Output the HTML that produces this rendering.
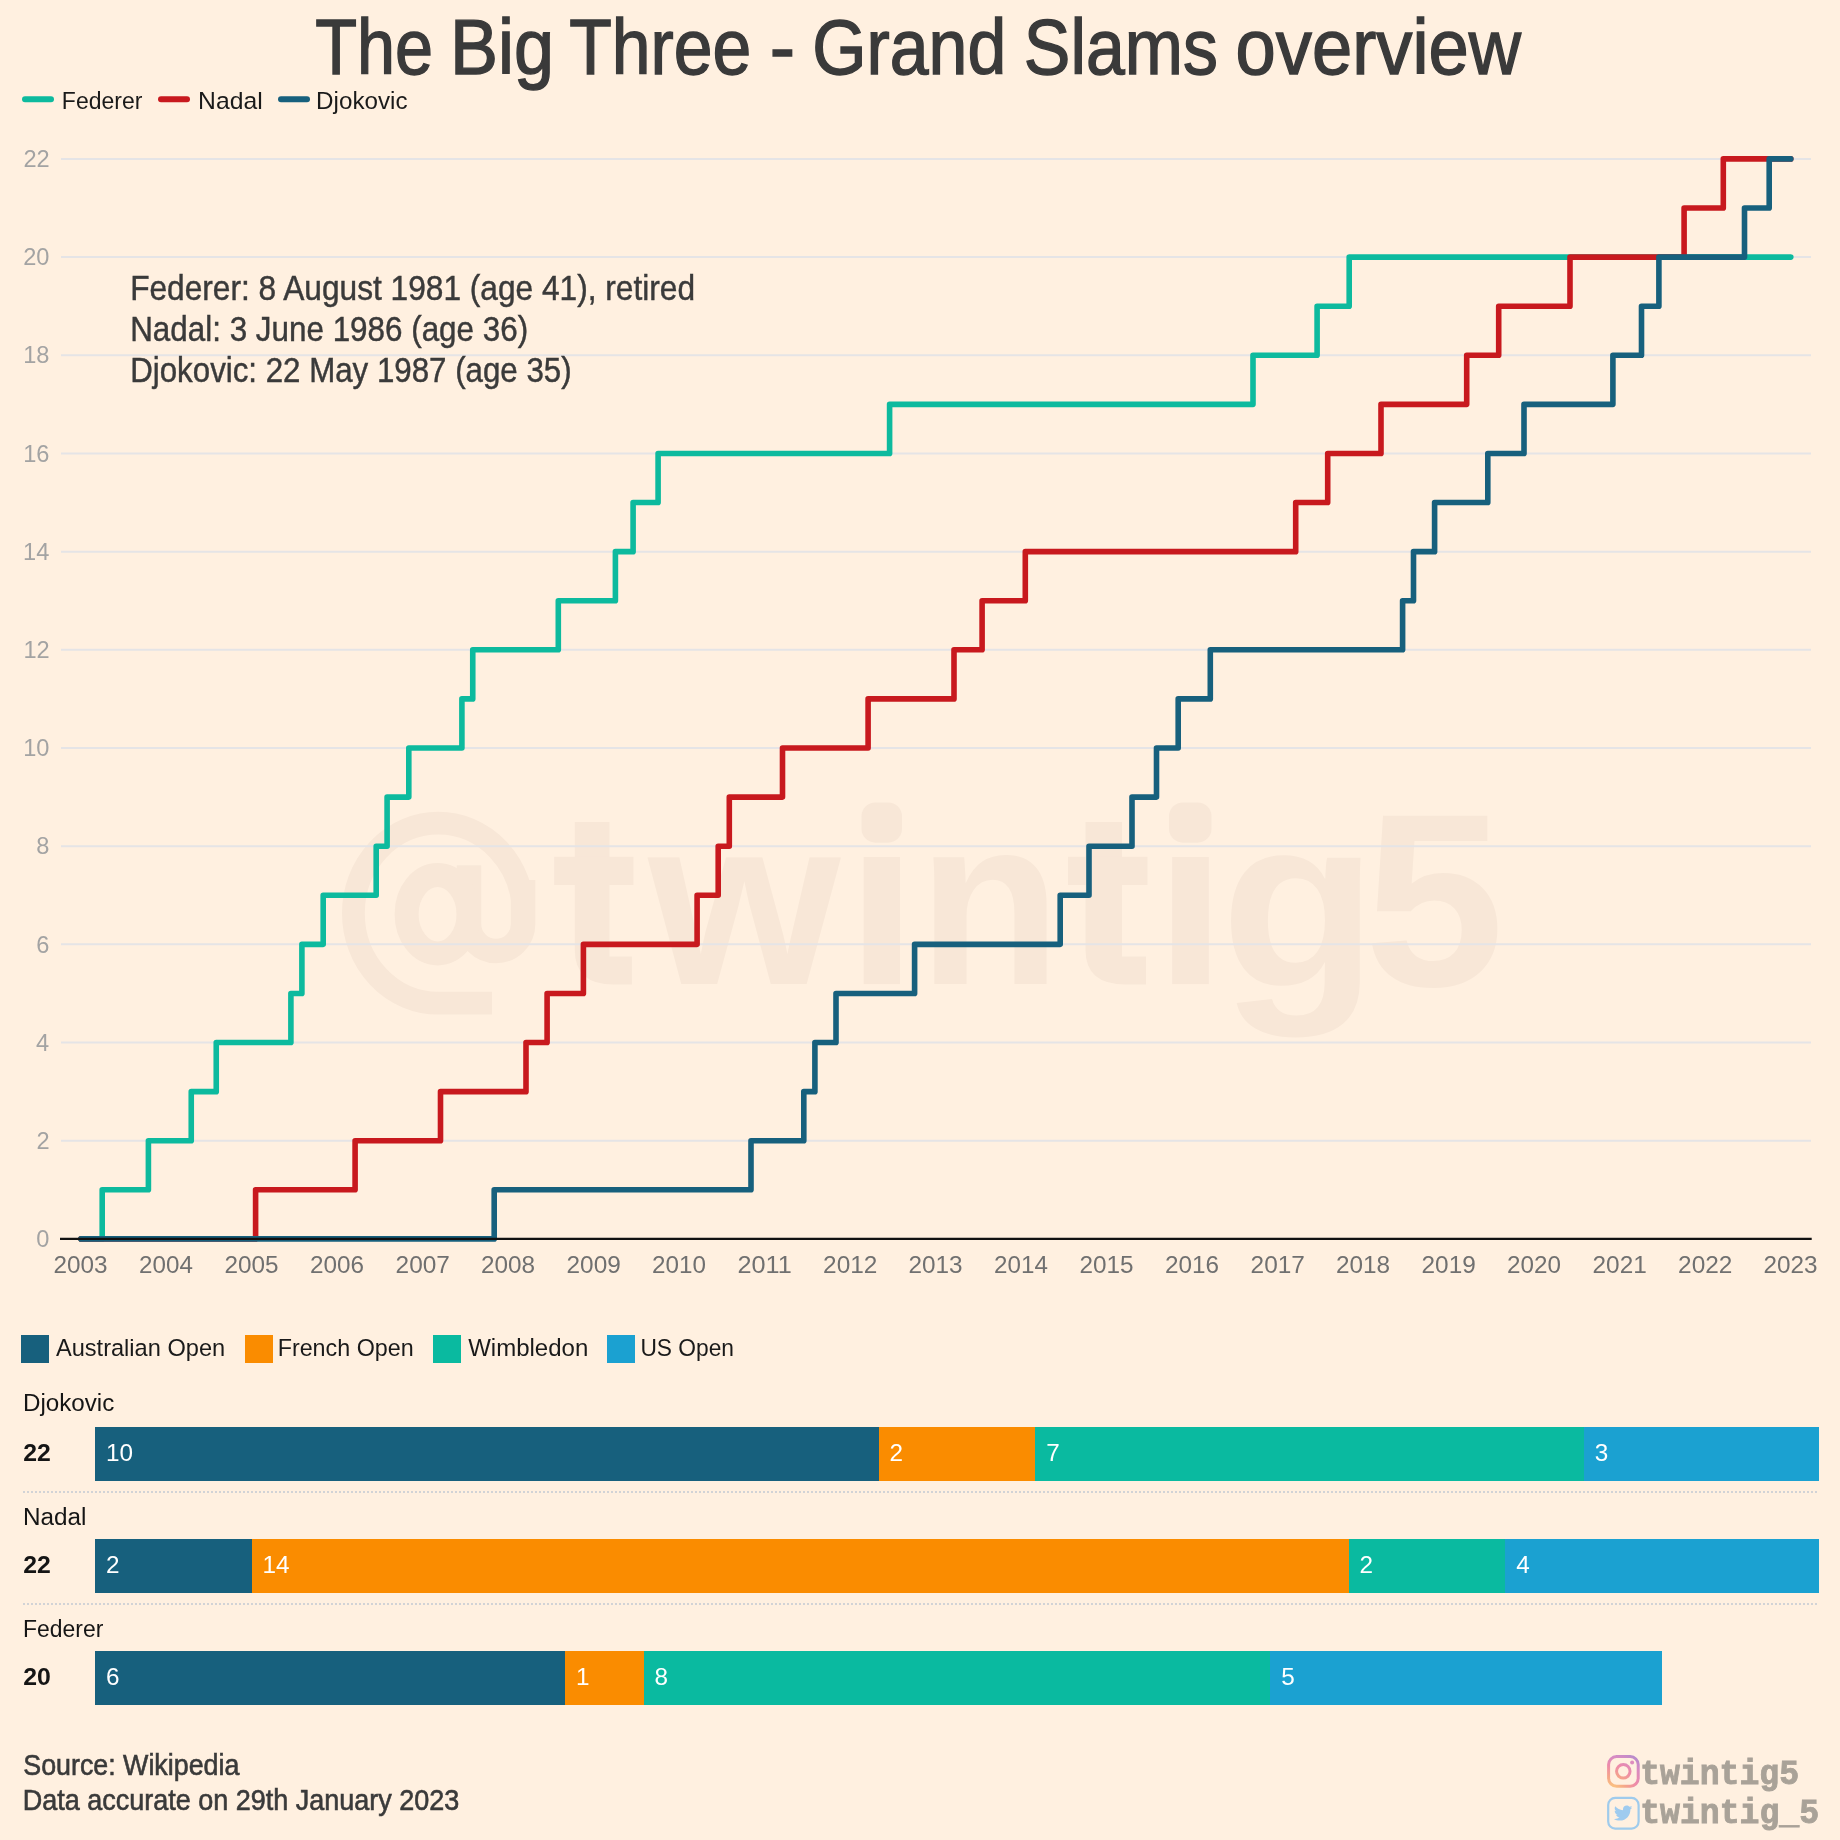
<!DOCTYPE html>
<html><head><meta charset="utf-8"><title>The Big Three - Grand Slams overview</title>
<style>html,body{margin:0;padding:0;background:#FFF0E0;} svg{display:block;will-change:transform;}</style></head>
<body><svg width="1840" height="1840" viewBox="0 0 1840 1840">
<rect width="1840" height="1840" fill="#FFF0E0"/>
<rect x="863.7" y="857" width="36.3" height="127.1" fill="#F8E7D7"/>
<rect x="861.5" y="802.4" width="40.5" height="40.3" rx="14" fill="#F8E7D7"/>
<rect x="1172.2" y="857" width="36.6" height="127.1" fill="#F8E7D7"/>
<rect x="1169" y="802.4" width="42.5" height="40.3" rx="14" fill="#F8E7D7"/>
<path d="M523.2 913.2 A84.9 90.0 0 1 0 438.3 1003.2 H492" fill="none" stroke="#F8E7D7" stroke-width="22.8"/>
<path d="M469 865.3 V924 A27 27 0 0 0 523.1 924 V880" fill="none" stroke="#F8E7D7" stroke-width="24.5"/>
<ellipse cx="437.6" cy="914.2" rx="31" ry="39.2" fill="none" stroke="#F8E7D7" stroke-width="24"/>
<path d="M574.8 822 H609.5 V956.5 H631.9 V984.6 H613.5 Q574.8 984.6 574.8 950 Z" fill="#F8E7D7"/>
<rect x="554.2" y="856.8" width="79.2" height="28.2" fill="#F8E7D7"/>
<path d="M1085.5 822 H1122 V956.5 H1146.0 V984.6 H1126 Q1085.5 984.6 1085.5 950 Z" fill="#F8E7D7"/>
<rect x="1068" y="856.8" width="79.5" height="28.2" fill="#F8E7D7"/>
<text transform="translate(648.24 984.10) scale(2.4713 2.3981)" font-family='"Liberation Sans", sans-serif' font-weight="bold" font-size="100.0" fill="#F8E7D7">w</text>
<text transform="translate(918.08 984.10) scale(2.3423 2.3907)" font-family='"Liberation Sans", sans-serif' font-weight="bold" font-size="100.0" fill="#F8E7D7">n</text>
<text transform="translate(1220.50 986.04) scale(2.5743 2.4267)" font-family='"Liberation Sans", sans-serif' font-weight="bold" font-size="100.0" fill="#F8E7D7">g</text>
<text transform="translate(1364.15 985.52) scale(2.5180 2.4757)" font-family='"Liberation Sans", sans-serif' font-weight="bold" font-size="100.0" fill="#F8E7D7">5</text>
<line x1="61" x2="1811" y1="1140.72" y2="1140.72" stroke="#E5E4E6" stroke-width="2"/>
<line x1="61" x2="1811" y1="1042.54" y2="1042.54" stroke="#E5E4E6" stroke-width="2"/>
<line x1="61" x2="1811" y1="944.36" y2="944.36" stroke="#E5E4E6" stroke-width="2"/>
<line x1="61" x2="1811" y1="846.18" y2="846.18" stroke="#E5E4E6" stroke-width="2"/>
<line x1="61" x2="1811" y1="748.00" y2="748.00" stroke="#E5E4E6" stroke-width="2"/>
<line x1="61" x2="1811" y1="649.82" y2="649.82" stroke="#E5E4E6" stroke-width="2"/>
<line x1="61" x2="1811" y1="551.64" y2="551.64" stroke="#E5E4E6" stroke-width="2"/>
<line x1="61" x2="1811" y1="453.46" y2="453.46" stroke="#E5E4E6" stroke-width="2"/>
<line x1="61" x2="1811" y1="355.28" y2="355.28" stroke="#E5E4E6" stroke-width="2"/>
<line x1="61" x2="1811" y1="257.10" y2="257.10" stroke="#E5E4E6" stroke-width="2"/>
<line x1="61" x2="1811" y1="158.92" y2="158.92" stroke="#E5E4E6" stroke-width="2"/>
<text transform="translate(36.23 1247.10) scale(1.0000 1)" font-family='"Liberation Sans", sans-serif' font-weight="normal" font-size="23.60" fill="#A3A3A3" >0</text>
<text transform="translate(36.58 1148.92) scale(1.0000 1)" font-family='"Liberation Sans", sans-serif' font-weight="normal" font-size="23.60" fill="#A3A3A3" >2</text>
<text transform="translate(36.11 1050.74) scale(1.0000 1)" font-family='"Liberation Sans", sans-serif' font-weight="normal" font-size="23.60" fill="#A3A3A3" >4</text>
<text transform="translate(36.35 952.56) scale(1.0000 1)" font-family='"Liberation Sans", sans-serif' font-weight="normal" font-size="23.60" fill="#A3A3A3" >6</text>
<text transform="translate(36.35 854.38) scale(1.0000 1)" font-family='"Liberation Sans", sans-serif' font-weight="normal" font-size="23.60" fill="#A3A3A3" >8</text>
<text transform="translate(23.13 756.20) scale(1.0000 1)" font-family='"Liberation Sans", sans-serif' font-weight="normal" font-size="23.60" fill="#A3A3A3" >10</text>
<text transform="translate(23.48 658.02) scale(1.0000 1)" font-family='"Liberation Sans", sans-serif' font-weight="normal" font-size="23.60" fill="#A3A3A3" >12</text>
<text transform="translate(23.01 559.84) scale(1.0000 1)" font-family='"Liberation Sans", sans-serif' font-weight="normal" font-size="23.60" fill="#A3A3A3" >14</text>
<text transform="translate(23.25 461.66) scale(1.0000 1)" font-family='"Liberation Sans", sans-serif' font-weight="normal" font-size="23.60" fill="#A3A3A3" >16</text>
<text transform="translate(23.25 363.48) scale(1.0000 1)" font-family='"Liberation Sans", sans-serif' font-weight="normal" font-size="23.60" fill="#A3A3A3" >18</text>
<text transform="translate(23.13 265.30) scale(1.0000 1)" font-family='"Liberation Sans", sans-serif' font-weight="normal" font-size="23.60" fill="#A3A3A3" >20</text>
<text transform="translate(23.48 167.12) scale(1.0000 1)" font-family='"Liberation Sans", sans-serif' font-weight="normal" font-size="23.60" fill="#A3A3A3" >22</text>
<text transform="translate(53.58 1273.00) scale(1.0129 1)" font-family='"Liberation Sans", sans-serif' font-weight="normal" font-size="24.00" fill="#707070" >2003</text>
<text transform="translate(139.09 1273.00) scale(1.0082 1)" font-family='"Liberation Sans", sans-serif' font-weight="normal" font-size="24.00" fill="#707070" >2004</text>
<text transform="translate(224.58 1273.00) scale(1.0129 1)" font-family='"Liberation Sans", sans-serif' font-weight="normal" font-size="24.00" fill="#707070" >2005</text>
<text transform="translate(310.08 1273.00) scale(1.0129 1)" font-family='"Liberation Sans", sans-serif' font-weight="normal" font-size="24.00" fill="#707070" >2006</text>
<text transform="translate(395.58 1273.00) scale(1.0176 1)" font-family='"Liberation Sans", sans-serif' font-weight="normal" font-size="24.00" fill="#707070" >2007</text>
<text transform="translate(481.08 1273.00) scale(1.0129 1)" font-family='"Liberation Sans", sans-serif' font-weight="normal" font-size="24.00" fill="#707070" >2008</text>
<text transform="translate(566.58 1273.00) scale(1.0153 1)" font-family='"Liberation Sans", sans-serif' font-weight="normal" font-size="24.00" fill="#707070" >2009</text>
<text transform="translate(652.09 1273.00) scale(1.0105 1)" font-family='"Liberation Sans", sans-serif' font-weight="normal" font-size="24.00" fill="#707070" >2010</text>
<text transform="translate(737.54 1273.00) scale(1.0523 1)" font-family='"Liberation Sans", sans-serif' font-weight="normal" font-size="24.00" fill="#707070" >2011</text>
<text transform="translate(823.08 1273.00) scale(1.0176 1)" font-family='"Liberation Sans", sans-serif' font-weight="normal" font-size="24.00" fill="#707070" >2012</text>
<text transform="translate(908.58 1273.00) scale(1.0129 1)" font-family='"Liberation Sans", sans-serif' font-weight="normal" font-size="24.00" fill="#707070" >2013</text>
<text transform="translate(994.09 1273.00) scale(1.0082 1)" font-family='"Liberation Sans", sans-serif' font-weight="normal" font-size="24.00" fill="#707070" >2014</text>
<text transform="translate(1079.58 1273.00) scale(1.0129 1)" font-family='"Liberation Sans", sans-serif' font-weight="normal" font-size="24.00" fill="#707070" >2015</text>
<text transform="translate(1165.08 1273.00) scale(1.0129 1)" font-family='"Liberation Sans", sans-serif' font-weight="normal" font-size="24.00" fill="#707070" >2016</text>
<text transform="translate(1250.58 1273.00) scale(1.0176 1)" font-family='"Liberation Sans", sans-serif' font-weight="normal" font-size="24.00" fill="#707070" >2017</text>
<text transform="translate(1336.08 1273.00) scale(1.0129 1)" font-family='"Liberation Sans", sans-serif' font-weight="normal" font-size="24.00" fill="#707070" >2018</text>
<text transform="translate(1421.58 1273.00) scale(1.0153 1)" font-family='"Liberation Sans", sans-serif' font-weight="normal" font-size="24.00" fill="#707070" >2019</text>
<text transform="translate(1507.09 1273.00) scale(1.0105 1)" font-family='"Liberation Sans", sans-serif' font-weight="normal" font-size="24.00" fill="#707070" >2020</text>
<text transform="translate(1592.58 1273.00) scale(1.0153 1)" font-family='"Liberation Sans", sans-serif' font-weight="normal" font-size="24.00" fill="#707070" >2021</text>
<text transform="translate(1678.08 1273.00) scale(1.0176 1)" font-family='"Liberation Sans", sans-serif' font-weight="normal" font-size="24.00" fill="#707070" >2022</text>
<text transform="translate(1763.58 1273.00) scale(1.0129 1)" font-family='"Liberation Sans", sans-serif' font-weight="normal" font-size="24.00" fill="#707070" >2023</text>
<path d="M81.0 1238.90 H102.2 V1189.81 H148.4 V1140.72 H191.25 V1091.63 H216.25 V1042.54 H290.9 V993.45 H301.9 V944.36 H323.2 V895.27 H376.2 V846.18 H387.1 V797.09 H408.8 V748.00 H461.9 V698.91 H472.75 V649.82 H558.3 V600.73 H615.4 V551.64 H633.1 V502.55 H658.1 V453.46 H889.6 V404.37 H1253.0 V355.28 H1317.1 V306.19 H1349.2 V257.10 H1790.8" fill="none" stroke="#0DBA9E" stroke-width="5.6" stroke-linejoin="round" stroke-linecap="round"/>
<path d="M81.0 1238.90 H255.6 V1189.81 H355.1 V1140.72 H440.5 V1091.63 H526.0 V1042.54 H547.1 V993.45 H583.4 V944.36 H697.1 V895.27 H718.2 V846.18 H729.3 V797.09 H782.5 V748.00 H868.1 V698.91 H954.0 V649.82 H982.1 V600.73 H1025.3 V551.64 H1295.7 V502.55 H1327.7 V453.46 H1381.0 V404.37 H1466.7 V355.28 H1498.7 V306.19 H1570.0 V257.10 H1684.1 V208.01 H1723.3 V158.92 H1790.8" fill="none" stroke="#C8191E" stroke-width="5.6" stroke-linejoin="round" stroke-linecap="round"/>
<path d="M81.0 1238.90 H494.2 V1189.81 H751.0 V1140.72 H803.8 V1091.63 H814.9 V1042.54 H836.0 V993.45 H914.6 V944.36 H1060.2 V895.27 H1089.0 V846.18 H1132.0 V797.09 H1156.5 V748.00 H1178.2 V698.91 H1210.3 V649.82 H1402.6 V600.73 H1413.5 V551.64 H1434.6 V502.55 H1487.8 V453.46 H1524.0 V404.37 H1612.9 V355.28 H1641.5 V306.19 H1658.9 V257.10 H1744.5 V208.01 H1769.2 V158.92 H1790.8" fill="none" stroke="#17607D" stroke-width="5.6" stroke-linejoin="round" stroke-linecap="round"/>
<line x1="60" x2="1811.7" y1="1238.9" y2="1238.9" stroke="#111" stroke-width="2.2"/>
<text transform="translate(315.23 73.90) scale(0.8789 1)" font-family='"Liberation Sans", sans-serif' font-weight="normal" font-size="77.83" fill="#3A3A3A" stroke="#3A3A3A" stroke-width="1.4">The</text>
<text transform="translate(449.94 73.90) scale(0.9251 1)" font-family='"Liberation Sans", sans-serif' font-weight="normal" font-size="77.83" fill="#3A3A3A" stroke="#3A3A3A" stroke-width="1.4">Big</text>
<text transform="translate(569.31 73.90) scale(0.8954 1)" font-family='"Liberation Sans", sans-serif' font-weight="normal" font-size="77.83" fill="#3A3A3A" stroke="#3A3A3A" stroke-width="1.4">Three</text>
<text transform="translate(769.78 73.90) scale(0.9755 1)" font-family='"Liberation Sans", sans-serif' font-weight="normal" font-size="77.83" fill="#3A3A3A" stroke="#3A3A3A" stroke-width="1.4">-</text>
<text transform="translate(812.21 73.90) scale(0.8973 1)" font-family='"Liberation Sans", sans-serif' font-weight="normal" font-size="77.83" fill="#3A3A3A" stroke="#3A3A3A" stroke-width="1.4">Grand</text>
<text transform="translate(1023.81 73.90) scale(0.8973 1)" font-family='"Liberation Sans", sans-serif' font-weight="normal" font-size="77.83" fill="#3A3A3A" stroke="#3A3A3A" stroke-width="1.4">Slams</text>
<text transform="translate(1235.51 73.90) scale(0.9297 1)" font-family='"Liberation Sans", sans-serif' font-weight="normal" font-size="77.83" fill="#3A3A3A" stroke="#3A3A3A" stroke-width="1.4">overview</text>
<line x1="25" x2="51" y1="99.25" y2="99.25" stroke="#0DBA9E" stroke-width="6" stroke-linecap="round"/>
<text transform="translate(61.86 109.10) scale(0.9558 1)" font-family='"Liberation Sans", sans-serif' font-weight="normal" font-size="24.06" fill="#1A1A1A" >Federer</text>
<line x1="161" x2="187" y1="99.25" y2="99.25" stroke="#C8191E" stroke-width="6" stroke-linecap="round"/>
<text transform="translate(198.02 109.10) scale(1.0286 1)" font-family='"Liberation Sans", sans-serif' font-weight="normal" font-size="24.06" fill="#1A1A1A" >Nadal</text>
<line x1="281" x2="307" y1="99.25" y2="99.25" stroke="#17607D" stroke-width="6" stroke-linecap="round"/>
<text transform="translate(316.06 109.10) scale(1.0066 1)" font-family='"Liberation Sans", sans-serif' font-weight="normal" font-size="24.06" fill="#1A1A1A" >Djokovic</text>
<text transform="translate(130.17 299.60) scale(0.9065 1)" font-family='"Liberation Sans", sans-serif' font-weight="normal" font-size="34.93" fill="#3A3A3A" stroke="#3A3A3A" stroke-width="0.45">Federer: 8 August 1981 (age 41), retired</text>
<text transform="translate(130.19 340.70) scale(0.8990 1)" font-family='"Liberation Sans", sans-serif' font-weight="normal" font-size="34.93" fill="#3A3A3A" stroke="#3A3A3A" stroke-width="0.45">Nadal: 3 June 1986 (age 36)</text>
<text transform="translate(130.20 382.00) scale(0.8953 1)" font-family='"Liberation Sans", sans-serif' font-weight="normal" font-size="34.93" fill="#3A3A3A" stroke="#3A3A3A" stroke-width="0.45">Djokovic: 22 May 1987 (age 35)</text>
<rect x="21" y="1335" width="28" height="28" fill="#17607D"/>
<text transform="translate(55.90 1355.90) scale(0.9876 1)" font-family='"Liberation Sans", sans-serif' font-weight="normal" font-size="23.91" fill="#1A1A1A" >Australian Open</text>
<rect x="245" y="1335" width="28" height="28" fill="#FA8C00"/>
<text transform="translate(277.63 1355.90) scale(0.9760 1)" font-family='"Liberation Sans", sans-serif' font-weight="normal" font-size="23.91" fill="#1A1A1A" >French Open</text>
<rect x="433" y="1335" width="28" height="28" fill="#0ABAA0"/>
<text transform="translate(468.18 1355.90) scale(1.0043 1)" font-family='"Liberation Sans", sans-serif' font-weight="normal" font-size="23.91" fill="#1A1A1A" >Wimbledon</text>
<rect x="607" y="1335" width="28" height="28" fill="#1BA1D1"/>
<text transform="translate(640.39 1355.90) scale(0.9522 1)" font-family='"Liberation Sans", sans-serif' font-weight="normal" font-size="23.91" fill="#1A1A1A" >US Open</text>
<text transform="translate(22.96 1410.90) scale(0.9818 1)" font-family='"Liberation Sans", sans-serif' font-weight="normal" font-size="24.64" fill="#151515" >Djokovic</text>
<text transform="translate(23.13 1461.20) scale(1.0224 1)" font-family='"Liberation Sans", sans-serif' font-weight="bold" font-size="24.29" fill="#151515" >22</text>
<rect x="95" y="1427" width="784" height="54" fill="#17607D" shape-rendering="crispEdges" transform="translate(0 0)"/>
<text transform="translate(105.90 1461.20) scale(1.0000 1)" font-family='"Liberation Sans", sans-serif' font-weight="normal" font-size="24.30" fill="#FFFFFF" >10</text>
<rect x="879" y="1427" width="156" height="54" fill="#FA8C00" shape-rendering="crispEdges" transform="translate(0 0)"/>
<text transform="translate(889.45 1461.20) scale(1.0000 1)" font-family='"Liberation Sans", sans-serif' font-weight="normal" font-size="24.30" fill="#FFFFFF" >2</text>
<rect x="1035" y="1427" width="549" height="54" fill="#0ABAA0" shape-rendering="crispEdges" transform="translate(0 0)"/>
<text transform="translate(1046.15 1461.20) scale(1.0000 1)" font-family='"Liberation Sans", sans-serif' font-weight="normal" font-size="24.30" fill="#FFFFFF" >7</text>
<rect x="1584" y="1427" width="235" height="54" fill="#1BA1D1" shape-rendering="crispEdges" transform="translate(0 0)"/>
<text transform="translate(1594.64 1461.20) scale(1.0000 1)" font-family='"Liberation Sans", sans-serif' font-weight="normal" font-size="24.30" fill="#FFFFFF" >3</text>
<line x1="23" x2="1819" y1="1491.8999999999999" y2="1491.8999999999999" stroke="#D2D3D6" stroke-width="2" stroke-dasharray="2 2"/>
<text transform="translate(22.96 1524.80) scale(0.9863 1)" font-family='"Liberation Sans", sans-serif' font-weight="normal" font-size="24.64" fill="#151515" >Nadal</text>
<text transform="translate(23.13 1573.30) scale(1.0224 1)" font-family='"Liberation Sans", sans-serif' font-weight="bold" font-size="24.29" fill="#151515" >22</text>
<rect x="95" y="1427" width="157" height="54" fill="#17607D" shape-rendering="crispEdges" transform="translate(0 112)"/>
<text transform="translate(105.90 1573.30) scale(1.0000 1)" font-family='"Liberation Sans", sans-serif' font-weight="normal" font-size="24.30" fill="#FFFFFF" >2</text>
<rect x="252" y="1427" width="1097" height="54" fill="#FA8C00" shape-rendering="crispEdges" transform="translate(0 112)"/>
<text transform="translate(262.61 1573.30) scale(1.0000 1)" font-family='"Liberation Sans", sans-serif' font-weight="normal" font-size="24.30" fill="#FFFFFF" >14</text>
<rect x="1349" y="1427" width="156" height="54" fill="#0ABAA0" shape-rendering="crispEdges" transform="translate(0 112)"/>
<text transform="translate(1359.57 1573.30) scale(1.0000 1)" font-family='"Liberation Sans", sans-serif' font-weight="normal" font-size="24.30" fill="#FFFFFF" >2</text>
<rect x="1505" y="1427" width="314" height="54" fill="#1BA1D1" shape-rendering="crispEdges" transform="translate(0 112)"/>
<text transform="translate(1516.28 1573.30) scale(1.0000 1)" font-family='"Liberation Sans", sans-serif' font-weight="normal" font-size="24.30" fill="#FFFFFF" >4</text>
<line x1="23" x2="1819" y1="1604.0" y2="1604.0" stroke="#D2D3D6" stroke-width="2" stroke-dasharray="2 2"/>
<text transform="translate(23.07 1636.80) scale(0.9310 1)" font-family='"Liberation Sans", sans-serif' font-weight="normal" font-size="24.64" fill="#151515" >Federer</text>
<text transform="translate(23.13 1685.30) scale(1.0224 1)" font-family='"Liberation Sans", sans-serif' font-weight="bold" font-size="24.29" fill="#151515" >20</text>
<rect x="95" y="1427" width="470" height="54" fill="#17607D" shape-rendering="crispEdges" transform="translate(0 224)"/>
<text transform="translate(105.90 1685.30) scale(1.0000 1)" font-family='"Liberation Sans", sans-serif' font-weight="normal" font-size="24.30" fill="#FFFFFF" >6</text>
<rect x="565" y="1427" width="79" height="54" fill="#FA8C00" shape-rendering="crispEdges" transform="translate(0 224)"/>
<text transform="translate(576.03 1685.30) scale(1.0000 1)" font-family='"Liberation Sans", sans-serif' font-weight="normal" font-size="24.30" fill="#FFFFFF" >1</text>
<rect x="644" y="1427" width="626" height="54" fill="#0ABAA0" shape-rendering="crispEdges" transform="translate(0 224)"/>
<text transform="translate(654.38 1685.30) scale(1.0000 1)" font-family='"Liberation Sans", sans-serif' font-weight="normal" font-size="24.30" fill="#FFFFFF" >8</text>
<rect x="1270" y="1427" width="392" height="54" fill="#1BA1D1" shape-rendering="crispEdges" transform="translate(0 224)"/>
<text transform="translate(1281.22 1685.30) scale(1.0000 1)" font-family='"Liberation Sans", sans-serif' font-weight="normal" font-size="24.30" fill="#FFFFFF" >5</text>
<text transform="translate(23.29 1774.90) scale(0.9342 1)" font-family='"Liberation Sans", sans-serif' font-weight="normal" font-size="28.71" fill="#3A3A3A" stroke="#3A3A3A" stroke-width="0.6">Source: Wikipedia</text>
<text transform="translate(22.74 1809.80) scale(0.9362 1)" font-family='"Liberation Sans", sans-serif' font-weight="normal" font-size="28.84" fill="#3A3A3A" stroke="#3A3A3A" stroke-width="0.6">Data accurate on 29th January 2023</text>
<text transform="translate(1640.15 1783.50) scale(0.9560 1)" font-family='"Liberation Mono", monospace' font-weight="bold" font-size="34.63" fill="#A9A298" stroke="#A9A298" stroke-width="0.9">twintig5</text>
<text transform="translate(1640.15 1822.70) scale(0.9573 1)" font-family='"Liberation Mono", monospace' font-weight="bold" font-size="34.63" fill="#A9A298" stroke="#A9A298" stroke-width="0.9">twintig_5</text>
<defs><radialGradient id="ig" gradientUnits="userSpaceOnUse" cx="1612" cy="1790" r="40"><stop offset="0" stop-color="#FCCB7E"/><stop offset="0.35" stop-color="#F5A58A"/><stop offset="0.62" stop-color="#EE8BAA"/><stop offset="0.85" stop-color="#D48BC4"/><stop offset="1" stop-color="#B88CCB"/></radialGradient></defs>
<rect x="1608.6" y="1756.6" width="29.6" height="29.6" rx="8" fill="none" stroke="url(#ig)" stroke-width="3"/>
<circle cx="1623.3" cy="1771.3" r="6.75" fill="none" stroke="url(#ig)" stroke-width="3"/>
<circle cx="1632.1" cy="1762.6" r="2" fill="#DE8CBE"/>
<rect x="1608.2" y="1797.9" width="30.4" height="30.7" rx="7" fill="none" stroke="#9FCBEC" stroke-width="2.2"/>
<path transform="translate(1614 1805) scale(0.78)" d="M23.6 3.1c-.9.4-1.8.6-2.8.8 1-.6 1.8-1.6 2.1-2.7-.9.6-2 1-3.1 1.2C18.9 1.4 17.6.8 16.3.8c-2.7 0-4.8 2.2-4.8 4.8 0 .4 0 .8.1 1.1C7.5 6.5 4 4.6 1.6 1.7c-.4.7-.7 1.6-.7 2.4 0 1.7.9 3.2 2.2 4-.8 0-1.5-.2-2.2-.6v.1c0 2.3 1.7 4.3 3.9 4.7-.4.1-.8.2-1.3.2-.3 0-.6 0-.9-.1.6 1.9 2.4 3.3 4.5 3.4-1.7 1.3-3.7 2.1-6 2.1-.4 0-.8 0-1.2-.1 2.1 1.4 4.7 2.2 7.4 2.2 8.9 0 13.7-7.4 13.7-13.7v-.6c1-.7 1.8-1.6 2.5-2.5z" fill="#9FCBEF"/>
</svg></body></html>
